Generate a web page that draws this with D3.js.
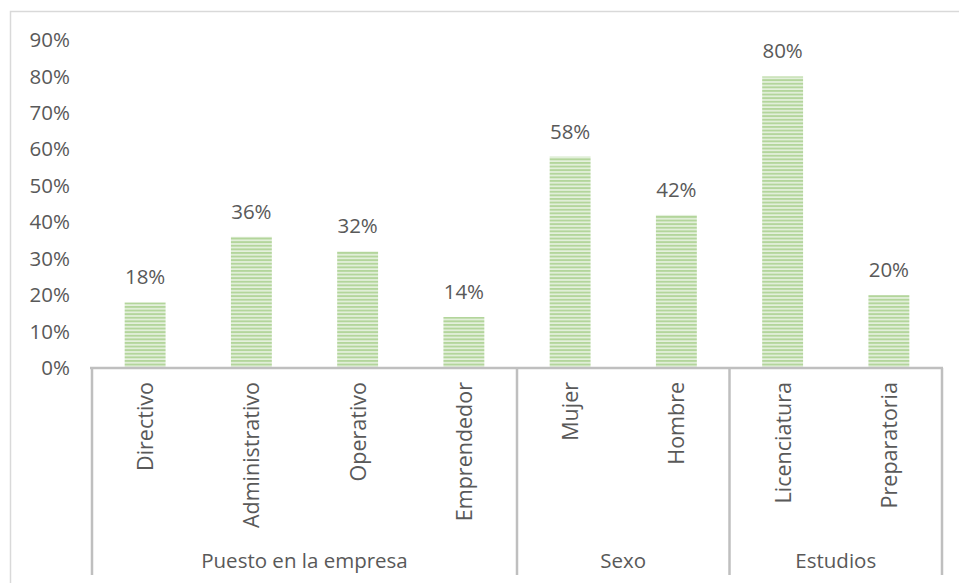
<!DOCTYPE html>
<html>
<head>
<meta charset="utf-8">
<script src="https://cdn.jsdelivr.net/npm/d3@7"></script>
<style>
  html, body { margin: 0; padding: 0; background: #fff; }
  svg { display: block; }
  text { font-family: "Open Sans", sans-serif; fill: #595959; }
</style>
</head>
<body>
<svg id="chart" width="959" height="583"></svg>
<script>
const categories = ["Directivo", "Administrativo", "Operativo", "Emprendedor", "Mujer", "Hombre", "Licenciatura", "Preparatoria"];
const values = [18, 36, 32, 14, 58, 42, 80, 20];
const groupNames = ["Puesto en la empresa", "Sexo", "Estudios"];
const groupRanges = [[0, 4], [4, 6], [6, 8]];
const yTicks = [0, 10, 20, 30, 40, 50, 60, 70, 80, 90];

const svg = d3.select("#chart");
const W = 959, H = 583;
const plotLeft = 92, plotRight = 942, plotTop = 40, axisY = 368, plotBottom = 575;
const fs = "20.5px";

// outer border
svg.append("path")
  .attr("d", `M10.5,${H} V11.5 H${W}`)
  .attr("fill", "none").attr("stroke", "#d9d9d9").attr("stroke-width", 1.5);

// pattern
const defs = svg.append("defs");
const pat = defs.append("pattern").attr("id", "stripes")
  .attr("patternUnits", "userSpaceOnUse").attr("width", 8).attr("height", 3.6);
pat.append("rect").attr("width", 8).attr("height", 3.6).attr("fill", "#e4f0dc");
pat.append("rect").attr("y", 0).attr("width", 8).attr("height", 1.9).attr("fill", "#b3d59b");

const x = d3.scaleBand().domain(categories).range([plotLeft, plotRight]).paddingInner(0.615).paddingOuter(0.3075);
const y = d3.scaleLinear().domain([0, 90]).range([axisY, plotTop]);

// y axis labels
const yAxis = d3.axisLeft(y).tickValues(yTicks).tickFormat(d => d + "%").tickSize(0).tickPadding(0);
const yg = svg.append("g").attr("transform", "translate(70,0)").call(yAxis);
yg.select(".domain").remove();
yg.selectAll("text").style("font-size", fs).style("font-family", "'Open Sans', sans-serif").attr("fill", "#595959");

// bars
svg.append("g").selectAll("rect").data(categories).join("rect")
  .attr("x", d => x(d))
  .attr("width", x.bandwidth())
  .attr("y", (d, i) => y(values[i]))
  .attr("height", (d, i) => axisY - y(values[i]))
  .attr("fill", "url(#stripes)");

// value labels
svg.append("g").selectAll("text").data(categories).join("text")
  .attr("x", d => x(d) + x.bandwidth() / 2)
  .attr("y", (d, i) => y(values[i]) - 18)
  .attr("text-anchor", "middle")
  .style("font-size", fs)
  .text((d, i) => values[i] + "%");

// axis line
svg.append("line").attr("x1", plotLeft - 2).attr("x2", plotRight + 1).attr("y1", axisY).attr("y2", axisY)
  .attr("stroke", "#bfbfbf").attr("stroke-width", 2.5);

// group separators
const step = x.step();
const bounds = [0, 4, 6, 8];
svg.append("g").selectAll("line").data(bounds).join("line")
  .attr("x1", d => plotLeft + d * step).attr("x2", d => plotLeft + d * step)
  .attr("y1", axisY).attr("y2", plotBottom)
  .attr("stroke", "#bfbfbf").attr("stroke-width", 2.5);

// category labels
svg.append("g").selectAll("text").data(categories).join("text")
  .attr("transform", d => `translate(${x(d) + x.bandwidth() / 2 + 8},382) rotate(-90)`)
  .attr("text-anchor", "end")
  .style("font-size", "21.5px")
  .text(d => d);

// group labels
svg.append("g").selectAll("text").data(groupNames).join("text")
  .attr("x", (d, i) => plotLeft + (groupRanges[i][0] + groupRanges[i][1]) / 2 * step)
  .attr("y", 568)
  .attr("text-anchor", "middle")
  .style("font-size", fs)
  .text(d => d);
</script>
</body>
</html>
